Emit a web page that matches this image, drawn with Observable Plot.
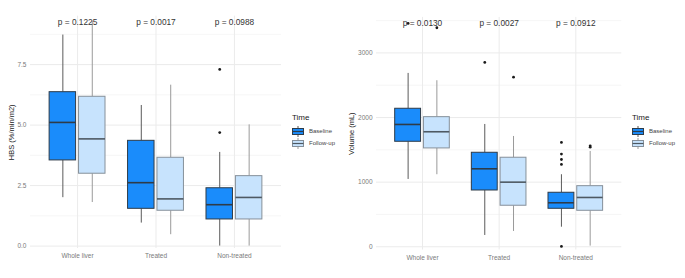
<!DOCTYPE html>
<html>
<head>
<meta charset="utf-8">
<script src="https://cdn.jsdelivr.net/npm/d3@7"></script>
<script src="https://cdn.jsdelivr.net/npm/@observablehq/plot@0.6"></script>
<style>
  html, body { margin: 0; padding: 0; background: #fff; }
  #wrap { position: relative; width: 685px; height: 278px; overflow: hidden; background: #fff; font-family: "Liberation Sans", Arial, sans-serif; }
  .panel { position: absolute; top: 0; }
  .panel svg { overflow: visible; }
  g[aria-label="y-axis label"] text, g[aria-label="y-axis label"] { font-size: 7.5px; fill: #1a1a1a; }
  g[aria-label="y-axis tick label"], g[aria-label="x-axis tick label"] { fill: #7a7a7a; }
  .legend { position: absolute; font-family: "Liberation Sans", Arial, sans-serif; color: #1a1a1a; }
  .legend .title { font-size: 8px; font-weight: normal; margin-bottom: 3px; }
  .legend .item { display: flex; align-items: center; height: 12px; font-size: 6px; color: #444; }
  .legend .item svg { margin-right: 5px; }
</style>
</head>
<body>
<div id="wrap"></div>
<script>
// ---- data ----
const categories = ["Whole liver", "Treated", "Non-treated"];
const times = ["Baseline", "Follow-up"];

// [lower whisker, Q1, median, Q3, upper whisker]
const hbsBaseline = [[2.00, 3.54, 5.11, 6.36, 8.72], [0.95, 1.54, 2.62, 4.35, 5.81], [0.00, 1.10, 1.71, 2.39, 3.87]];
const hbsFollowup = [[1.80, 2.99, 4.43, 6.17, 9.30], [0.47, 1.46, 1.95, 3.65, 6.65], [0.00, 1.10, 2.01, 2.89, 5.01]];
const hbsOutBaseline = [[], [], [7.30, 4.69]];
const hbsOutFollowup = [[], [], []];
const hbsP = ["p = 0.1225", "p = 0.0017", "p = 0.0988"];
const hbsTicks = [0, 2.5, 5, 7.5];
const hbsMinor = [1.25, 3.75, 6.25, 8.75];

const volBaseline = [[1042, 1625, 1893, 2136, 2683], [175, 871, 1207, 1455, 1893], [303, 588, 681, 836, 1115]];
const volFollowup = [[1115, 1522, 1780, 2006, 2570], [237, 635, 1000, 1378, 1707], [10, 557, 763, 938, 1475]];
const volOutBaseline = [[3457], [2853], [1615, 1434, 1351, 1274, 5]];
const volOutFollowup = [[3390], [2625], [1563, 1542]];
const volP = ["p = 0.0130", "p = 0.0027", "p = 0.0912"];
const volTicks = [0, 1000, 2000, 3000];
const volMinor = [500, 1500, 2500, 3500];

const fills = {"Baseline": "#1a8cfb", "Follow-up": "#c7e3fd"};
const strokes = {"Baseline": "#2e3b48", "Follow-up": "#86909a"};
const whisk = {"Baseline": "#5a5a5a", "Follow-up": "#9a9a9a"};
const medians = {"Baseline": "#2e3b48", "Follow-up": "#4e5963"};

// ---- helpers ----
const DODGE = 0.1875, HALF = 0.16875;
function boxRows(base, fol) {
  const rows = [];
  categories.forEach((c, i) => {
    [[base, "Baseline"], [fol, "Follow-up"]].forEach(([arr, t]) => {
      const [lo, q1, med, q3, hi] = arr[i];
      const xc = i + 1 + (t === "Baseline" ? -DODGE : DODGE);
      rows.push({cat: c, time: t, xc, x1: xc - HALF, x2: xc + HALF, lo, q1, med, q3, hi});
    });
  });
  return rows;
}
function outRows(base, fol) {
  const rows = [];
  categories.forEach((c, i) => {
    base[i].forEach(v => rows.push({cat: c, time: "Baseline", xc: i + 1 - DODGE, v}));
    fol[i].forEach(v => rows.push({cat: c, time: "Follow-up", xc: i + 1 + DODGE, v}));
  });
  return rows;
}

function makePanel({rows, outs, pvals, ticks, minor, fmt, domain, label, width, marginLeft, marginRight, marginTop, marginBottom, labelOffset}) {
  return Plot.plot({
    width, height: 278,
    marginLeft, marginRight, marginTop, marginBottom,
    style: {fontFamily: "'Liberation Sans', Arial, sans-serif", fontSize: "6.5px", background: "transparent", overflow: "visible"},
    x: {domain: [0.4, 3.6], ticks: [1, 2, 3], tickFormat: d => categories[d - 1], tickSize: 0, tickPadding: 5, label: null},
    y: {domain, ticks, tickFormat: fmt, tickSize: 0, tickPadding: 4, label, labelAnchor: "center", labelArrow: "none", labelOffset},
    marks: [
      Plot.ruleY(minor, {stroke: "#f0f0f0", strokeWidth: 0.6}),
      Plot.ruleY(ticks, {stroke: "#ebebeb", strokeWidth: 1}),
      Plot.ruleX([1, 2, 3], {stroke: "#ebebeb", strokeWidth: 1}),
      Plot.ruleX(rows, {x: "xc", y1: "lo", y2: "q1", stroke: d => whisk[d.time], strokeWidth: 1}),
      Plot.ruleX(rows, {x: "xc", y1: "q3", y2: "hi", stroke: d => whisk[d.time], strokeWidth: 1}),
      Plot.rect(rows, {x1: "x1", x2: "x2", y1: "q1", y2: "q3", fill: d => fills[d.time], stroke: d => strokes[d.time], strokeWidth: 1}),
      Plot.ruleY(rows, {x1: "x1", x2: "x2", y: "med", stroke: d => medians[d.time], strokeWidth: 1.6}),
      Plot.dot(outs, {x: "xc", y: "v", r: 1.4, fill: "#1a1a1a", stroke: null}),
      Plot.text(pvals, {x: (d, i) => i + 1, text: d => d, frameAnchor: "top", dy: 3, fontSize: 8.3, fill: "#333"})
    ]
  });
}

function legend(left) {
  const div = document.createElement("div");
  div.className = "legend";
  div.style.left = left + "px";
  div.style.top = "113px";
  const title = document.createElement("div");
  title.className = "title";
  title.textContent = "Time";
  div.appendChild(title);
  times.forEach(t => {
    const item = document.createElement("div");
    item.className = "item";
    item.innerHTML = `<svg width="12" height="11" viewBox="0 0 12 11">
      <line x1="6" x2="6" y1="0" y2="11" stroke="${whisk[t]}" stroke-width="1"/>
      <rect x="0.5" y="2.5" width="11" height="6" fill="${fills[t]}" stroke="${strokes[t]}" stroke-width="1"/>
      <line x1="0.5" x2="11.5" y1="5.5" y2="5.5" stroke="${medians[t]}" stroke-width="1.2"/>
    </svg><span>${t}</span>`;
    div.appendChild(item);
  });
  return div;
}

const wrap = document.getElementById("wrap");

const left = makePanel({
  rows: boxRows(hbsBaseline, hbsFollowup),
  outs: outRows(hbsOutBaseline, hbsOutFollowup),
  pvals: hbsP, ticks: hbsTicks, minor: hbsMinor, fmt: d3.format(".1f"),
  domain: [-0.1, 9.5], label: "HBS (%/min/m2)",
  width: 342, marginLeft: 30, marginRight: 61, marginTop: 15.7, marginBottom: 30, labelOffset: 22
});
const lp = document.createElement("div");
lp.className = "panel"; lp.style.left = "0px";
lp.appendChild(left);
wrap.appendChild(lp);
wrap.appendChild(legend(292));

const right = makePanel({
  rows: boxRows(volBaseline, volFollowup),
  outs: outRows(volOutBaseline, volOutFollowup),
  pvals: volP, ticks: volTicks, minor: volMinor, fmt: d3.format("d"),
  domain: [-50, 3550], label: "Volume (mL)",
  width: 343, marginLeft: 34, marginRight: 63.7, marginTop: 16.9, marginBottom: 28.5, labelOffset: 28
});
const rp = document.createElement("div");
rp.className = "panel"; rp.style.left = "342px";
rp.appendChild(right);
wrap.appendChild(rp);
wrap.appendChild(legend(632));
</script>
</body>
</html>
